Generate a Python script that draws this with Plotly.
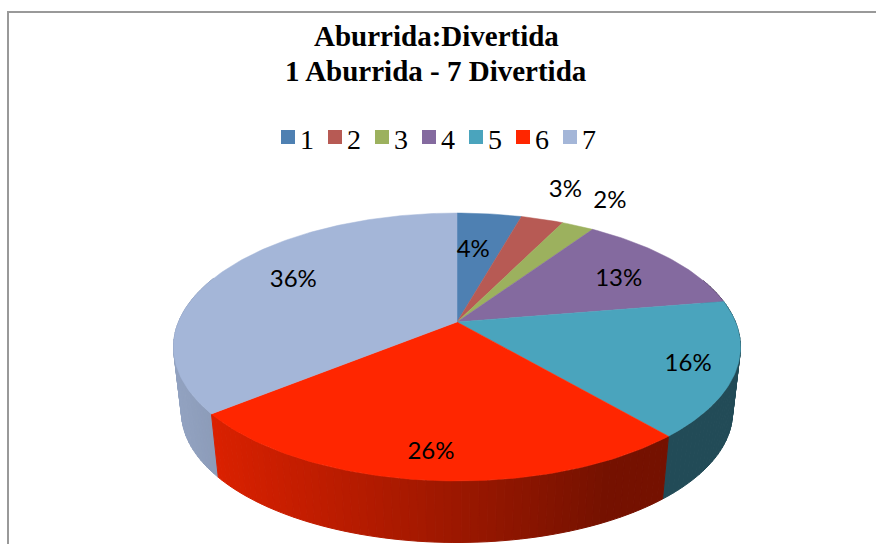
import math
import plotly.graph_objects as go

# --- data ---
categories = ["1", "2", "3", "4", "5", "6", "7"]
values = [4.4, 2.9, 2.2, 12.9, 16.3, 25.5, 35.8]
colors = ["#4E80B2", "#B75A54", "#9CB15E", "#846A9F", "#4AA4BD", "#FF2600", "#A4B6D8"]
title_lines = ["Aburrida:Divertida", "1 Aburrida - 7 Divertida"]
label_shift = [(-9, 13), (42, -51), (59, -45), (-2, 7), (25, 8), (-4, 19), (14, -2)]

# --- projection of the tilted disc ---
CX, CY, A, B, K = 457, 322, 278.5, 129.3, 0.1866
DEPTH, SHRINK = 66, 0.972


def top(r, deg):
    t = math.radians(deg)
    x, y = r * math.sin(t), r * math.cos(t)
    w = 1 + K * y
    return CX + A * x / w, CY - B * y / w


def bottom(r, deg):
    X, Y = top(r, deg)
    return CX + (X - CX) * SHRINK, CY + (Y - CY) * SHRINK + DEPTH


def shade(hex_col, f):
    rgb = [int(hex_col[i:i + 2], 16) for i in (1, 3, 5)]
    return "rgb(%d,%d,%d)" % tuple(round(c * f) for c in rgb)


def wall_factor(x):
    return max(0.46, 0.85 - (x - 217) * 0.001)


def arange(a, b, step):
    n = max(1, int(math.ceil((b - a) / step)))
    return [a + (b - a) * i / n for i in range(n + 1)]


fig = go.Figure()

# slice angle spans
spans, acc = [], 0.0
total = sum(values)
for v in values:
    spans.append((acc / total * 360, (acc + v) / total * 360))
    acc += v

# side wall, back to front
quads = []
for (a0, a1), col in zip(spans, colors):
    pts = arange(a0, a1, 1.5)
    for p, q in zip(pts[:-1], pts[1:]):
        quads.append((p, q, col))
quads.sort(key=lambda s: top(1, (s[0] + s[1]) / 2)[1])
for p, q, col in quads:
    if 70 < p < 290:
        x0, y0 = top(1, p)
        x1, y1 = top(1, q)
        x2, y2 = bottom(1, q)
        x3, y3 = bottom(1, p)
        c = shade(col, wall_factor((x0 + x1) / 2))
        fig.add_trace(go.Scatter(x=[x0, x1, x2, x3, x0], y=[y0, y1, y2, y3, y0],
                                 mode="lines", fill="toself", fillcolor=c,
                                 line=dict(color=c, width=1), hoverinfo="skip",
                                 showlegend=False))

# top face
for cat, (a0, a1), col in zip(categories, spans, colors):
    pts = [top(1, d) for d in arange(a0, a1, 1.0)]
    xs = [CX] + [p[0] for p in pts] + [CX]
    ys = [CY] + [p[1] for p in pts] + [CY]
    fig.add_trace(go.Scatter(x=xs, y=ys, mode="lines", fill="toself", fillcolor=col,
                             line=dict(color=col, width=0.5), name=cat,
                             showlegend=False, hoverinfo="name"))

# data labels
for v, (a0, a1), (dx, dy) in zip(values, spans, label_shift):
    lx, ly = top(0.75, (a0 + a1) / 2)
    fig.add_trace(go.Scatter(x=[lx + dx], y=[ly + dy], mode="text",
                             text=["%d%%" % round(v)], textposition="middle center",
                             textfont=dict(family="Lato", size=24, color="#000000"),
                             showlegend=False, hoverinfo="skip"))

# legend row
LEG_X, LEG_Y, LEG_STEP = 288, 137, 47
for i, (cat, col) in enumerate(zip(categories, colors)):
    fig.add_trace(go.Scatter(x=[LEG_X + i * LEG_STEP], y=[LEG_Y], mode="markers",
                             marker=dict(symbol="square", size=14, color=col),
                             name=cat, showlegend=False, hoverinfo="name"))
    fig.add_trace(go.Scatter(x=[LEG_X + 12 + i * LEG_STEP], y=[LEG_Y + 5], mode="text",
                             text=[cat], textposition="middle right",
                             textfont=dict(family="Liberation Serif", size=28, color="#000000"),
                             showlegend=False, hoverinfo="skip"))

fig.update_layout(
    width=876, height=544, autosize=False,
    margin=dict(l=0, r=0, t=0, b=0),
    paper_bgcolor="white", plot_bgcolor="white",
    xaxis=dict(range=[0, 876], visible=False, fixedrange=True),
    yaxis=dict(range=[544, 0], visible=False, fixedrange=True),
    shapes=[dict(type="rect", xref="x", yref="y", x0=8, y0=12, x1=890, y1=560,
                 line=dict(color="#999999", width=2), layer="below")],
    annotations=[dict(xref="x", yref="y", x=436, y=yy, text="<b>%s</b>" % t, showarrow=False,
                      font=dict(family="Liberation Serif", size=29, color="#000000"))
                 for t, yy in zip(title_lines, [36, 71])],
)

fig.write_html("out.html", config=dict(displayModeBar=False),
               post_script="document.body.style.margin='0';document.body.style.overflow='hidden';")
